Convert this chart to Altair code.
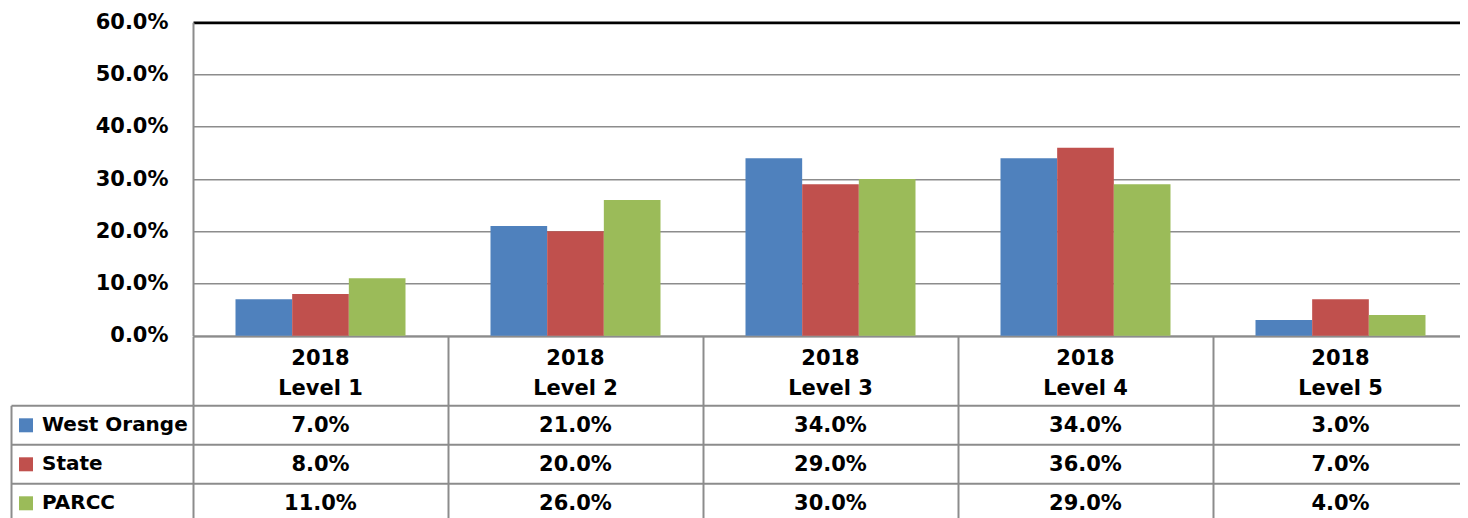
import altair as alt
import pandas as pd

categories = ["Level 1", "Level 2", "Level 3", "Level 4", "Level 5"]
year = "2018"
series = ["West Orange", "State", "PARCC"]
west_orange = [7.0, 21.0, 34.0, 34.0, 3.0]
state = [8.0, 20.0, 29.0, 36.0, 7.0]
parcc = [11.0, 26.0, 30.0, 29.0, 4.0]
colors = ["#4F81BD", "#C0504D", "#9BBB59"]
y_ticks = [0, 10, 20, 30, 40, 50, 60]

rows = []
for s, vals in zip(series, [west_orange, state, parcc]):
    for c, v in zip(categories, vals):
        rows.append({"cat": c, "series": s, "value": v / 100.0})
df = pd.DataFrame(rows)
header_df = pd.DataFrame({"cat": categories, "label": [year + "\n" + c for c in categories]})

FONT = "DejaVu Sans"
GRAY = "#8c8c8c"
FS = 21

bars = alt.Chart(df).mark_bar().encode(
    x=alt.X("cat:N", sort=categories,
            scale=alt.Scale(paddingInner=1 / 3, paddingOuter=1 / 6),
            axis=alt.Axis(title=None, labels=False, ticks=False, domain=True,
                          domainColor=GRAY, domainWidth=2, grid=False)),
    xOffset=alt.XOffset("series:N", sort=series,
                        scale=alt.Scale(paddingInner=0, paddingOuter=0)),
    y=alt.Y("value:Q", scale=alt.Scale(domain=[0, 0.6], nice=False),
            axis=alt.Axis(title=None, values=[t / 100.0 for t in y_ticks], format=".1%",
                          labelFont=FONT, labelFontSize=FS, labelFontWeight="bold",
                          labelColor="black", labelPadding=25, ticks=False, tickSize=0,
                          domain=True, domainColor=GRAY, domainWidth=2, grid=True,
                          gridColor={"condition": {"test": "datum.value >= 0.599", "value": "black"},
                                     "value": GRAY},
                          gridWidth={"condition": {"test": "datum.value >= 0.599", "value": 2.7},
                                     "value": 1.5})),
    color=alt.Color("series:N", sort=series,
                    scale=alt.Scale(domain=series, range=colors),
                    legend=alt.Legend(orient="none", legendX=-177, legendY=393, title=None,
                                      symbolType="square", symbolSize=196, symbolStrokeWidth=0,
                                      labelFont=FONT, labelFontSize=20, labelFontWeight="bold",
                                      labelColor="black", labelOffset=6, rowPadding=19.0,
                                      padding=0, labelLimit=400)),
).properties(width=1275, height=313.5)

header = alt.Chart(header_df).mark_text(
    font=FONT, fontSize=FS, fontWeight="bold", lineBreak="\n", lineHeight=30,
    baseline="middle", color="black", dy=-12
).encode(
    x=alt.X("cat:N", sort=categories, scale=alt.Scale(paddingInner=0, paddingOuter=0),
            axis=alt.Axis(title=None, labels=False, ticks=False, domain=False, grid=True,
                          tickBand="extent", gridColor=GRAY, gridWidth=2)),
    text="label:N",
).properties(width=1275, height=68.8)

cells = alt.Chart(df).mark_text(font=FONT, fontSize=FS, fontWeight="bold", color="black",
                                dy=1).encode(
    x=alt.X("cat:N", sort=categories, scale=alt.Scale(paddingInner=0, paddingOuter=0),
            axis=alt.Axis(title=None, labels=False, ticks=False, domain=False, grid=True,
                          tickBand="extent", gridColor=GRAY, gridWidth=2)),
    y=alt.Y("series:N", sort=series, scale=alt.Scale(paddingInner=0, paddingOuter=0),
            axis=alt.Axis(title=None, labels=False, ticks=True, tickSize=182, tickColor=GRAY,
                          tickWidth=2, tickBand="extent", grid=True, gridColor=GRAY,
                          gridWidth=2, domain=False)),
    text=alt.Text("value:Q", format=".1%"),
)
border = alt.Chart(df).mark_text(opacity=0).encode(
    y=alt.Y("series:N", sort=series, scale=alt.Scale(paddingInner=0, paddingOuter=0),
            axis=alt.Axis(orient="left", offset=182, title=None, labels=False, ticks=False,
                          grid=False, domain=True, domainColor=GRAY, domainWidth=2)),
    text="series:N",
)
body = alt.layer(cells, border).resolve_scale(y="independent").properties(width=1275, height=117.6)

chart = alt.vconcat(bars, header, body, spacing=0, bounds="flush").properties(
    padding={"left": 2, "top": 3.3, "right": -8, "bottom": 0}
).configure_view(stroke=None)

chart.save("out.html", embed_options={"renderer": "svg", "actions": False})
